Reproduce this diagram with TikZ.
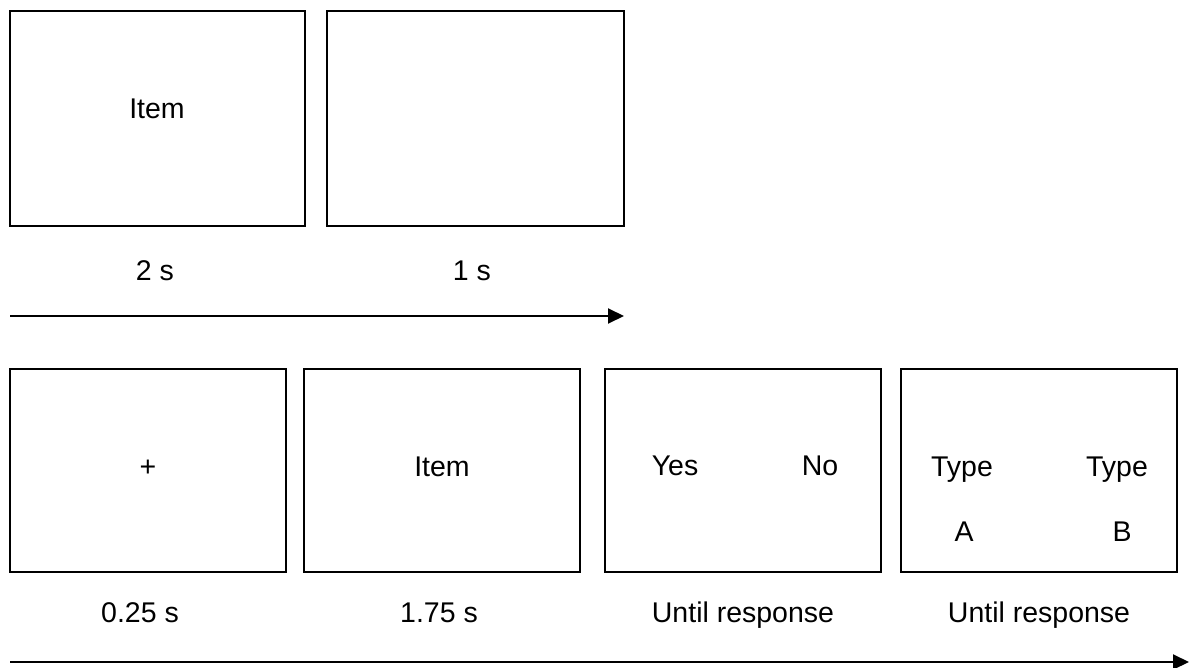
\documentclass[tikz,border=0pt]{standalone}
\usepackage{fontspec}
\setmainfont{Liberation Sans}
\usetikzlibrary{arrows.meta}
\begin{document}
\begin{tikzpicture}[x=1pt,y=-1pt,
  screen/.style={draw, line width=2pt, inner sep=0pt, minimum height=#1},
  lbl/.style={inner sep=0pt, font=\fontsize{28.5}{34}\selectfont, text height=20.5pt, text depth=0pt},
  timeline/.style={line width=2pt, -{Triangle[length=16pt,width=15pt]}}]
\useasboundingbox (0,0) rectangle (1189,668);
% top row
\node[screen=215pt, minimum width=294.7pt] (t1) at (157.35,118.2) {};
\node[screen=215pt, minimum width=297.6pt] (t2) at (475.5,118.2) {};
\node[lbl] (t1txt) at (157,108) {Item};
\node[lbl] (t1dur) at (155,270) {2 s};
\node[lbl] (t2dur) at (472,270) {1 s};
\coordinate (a1s) at (10,316);
\coordinate (a1e) at (624,316);
\draw[timeline] (a1s) -- (a1e);
% bottom row
\node[screen=203pt, minimum width=276pt] (b1) at (148,470.5) {};
\node[screen=203pt, minimum width=276pt] (b2) at (442,470.5) {};
\node[screen=203pt, minimum width=276pt] (b3) at (743,470.5) {};
\node[screen=203pt, minimum width=275.5pt] (b4) at (1038.75,470.5) {};
\node[lbl] (b1txt) at (148,466) {+};
\node[lbl] (b2txt) at (442,466) {Item};
\node[lbl] (b3yes) at (675,465) {Yes};
\node[lbl] (b3no) at (820,465) {No};
\node[lbl] (b4ta) at (962,466) {Type};
\node[lbl] (b4tb) at (1117,466) {Type};
\node[lbl] (b4a) at (964,531) {A};
\node[lbl] (b4b) at (1122,531) {B};
\node[lbl] (b1dur) at (140,612) {0.25 s};
\node[lbl] (b2dur) at (439,612) {1.75 s};
\node[lbl] (b3dur) at (743,612) {Until response};
\node[lbl] (b4dur) at (1039,612) {Until response};
\coordinate (a2s) at (10,662);
\coordinate (a2e) at (1189,662);
\draw[timeline] (a2s) -- (a2e);
\end{tikzpicture}
\end{document}
